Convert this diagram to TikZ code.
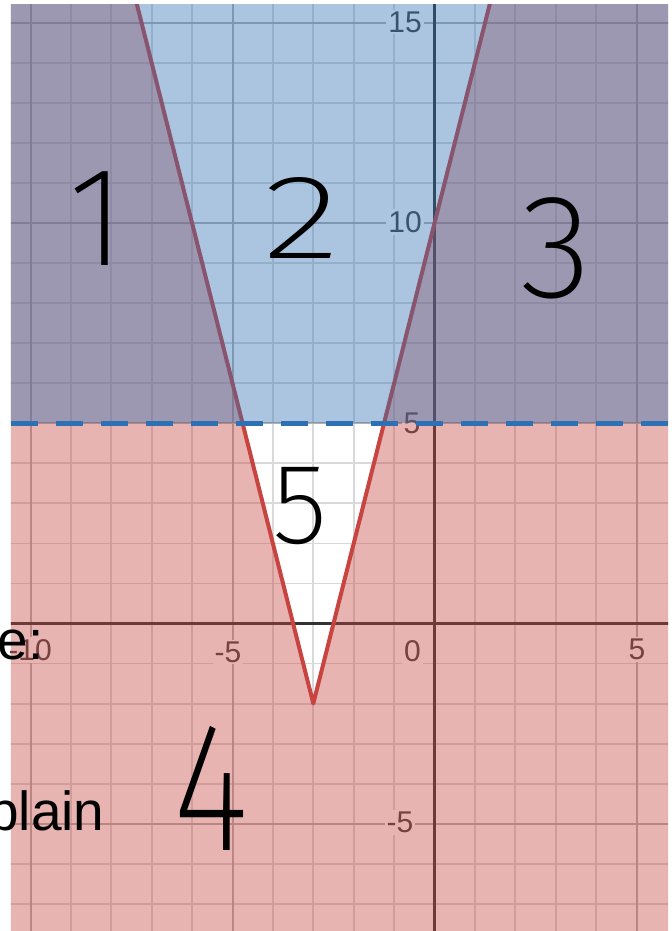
\documentclass[tikz,border=0pt]{standalone}
\usepackage{fontspec}
\setmainfont{Liberation Sans}
\newfontfamily\handfont{Fira Sans ExtraLight}
\definecolor{dred}{HTML}{C74440}
\definecolor{dblue}{HTML}{2D70B3}
\begin{document}
\begin{tikzpicture}[x=0.75pt,y=-0.75pt,
  minorline/.style={draw=black!15, line width=1.4pt},
  majorline/.style={draw=black!30, line width=1.5pt},
  axisline/.style={draw=black!80, line width=2pt},
  ticklabel/.style={fill=white, text=black!75, inner sep=1.5pt,
    font=\fontsize{22.5}{22.5}\selectfont},
  handdigit/.style={text=black, inner sep=0pt, anchor=base},
  overtext/.style={text=black, inner sep=0pt, anchor=base west,
    font=\fontsize{41.25}{41.25}\selectfont}]
\useasboundingbox (0,0) rectangle (671,931);
\fill[white] (0,0) rectangle (671,931);
\begin{scope}[shift={(434.5,623.5)},x=30.3pt,y=30.0225pt]
  \clip (-10.483,-7.7) rectangle (5.78,15.451);
  % grid
  \foreach \i in {-9,-8,-7,-6,-4,-3,-2,-1,1,2,3,4}
    \draw[minorline] (\i,-8) -- (\i,16);
  \foreach \j in {-7,-6,-4,-3,-2,-1,1,2,3,4,6,7,8,9,11,12,13,14}
    \draw[minorline] (-11,\j) -- (6,\j);
  \foreach \i in {-10,-5,5}
    \draw[majorline] (\i,-8) -- (\i,16);
  \foreach \j in {-5,5,10,15}
    \draw[majorline] (-11,\j) -- (6,\j);
  \draw[axisline] (0,-8) -- (0,16);
  \draw[axisline] (-11,0) -- (6,0);
  % axis labels
  \node[ticklabel] (ly15) at (-0.730,15.026) {15};
  \node[ticklabel] (ly10) at (-0.730,10.03) {10};
  \node[ticklabel] (ly5) at (-0.557,5.0) {5};
  \node[ticklabel] (lym5) at (-0.854,-4.96) {-5};
  \node[ticklabel] (lxm10) at (-10.01,-0.662) {-10};
  \node[ticklabel] (lxm5) at (-5.11,-0.712) {-5};
  \node[ticklabel] (lx0) at (-0.545,-0.687) {0};
  \node[ticklabel] (lx5) at (5.01,-0.65) {5};
  % red inequality region (outside the V)
  \fill[dred, fill opacity=0.4]
    (-11,16) -- (-7.5,16) -- (-3,-2) -- (1.5,16) -- (6,16) -- (6,-8) -- (-11,-8) -- cycle;
  \draw[dred, line width=3pt, line join=round] (-7.5,16) -- (-3,-2) -- (1.5,16);
  % blue region y > 5
  \fill[dblue, fill opacity=0.4] (-11,5) rectangle (6,16);
  \draw[dblue, line width=3.4pt, dash pattern=on 20pt off 13.75pt] (-10.483,5) -- (5.78,5);
\end{scope}
% handwritten region numbers
\node[handdigit, font=\handfont\fontsize{106}{106}\selectfont] (n1) at (97,265) {1};
\node[handdigit, font=\handfont\fontsize{90}{90}\selectfont] (n2) at (302,258) {\scalebox{1.35}[1]{2}};
\node[handdigit, font=\handfont\fontsize{111}{111}\selectfont] (n3) at (556,297) {3};
\node[handdigit, font=\handfont\fontsize{138}{138}\selectfont] (n4) at (211,850) {\scalebox{0.8}[1]{4}};
\node[handdigit, font=\handfont\fontsize{86}{86}\selectfont] (n5) at (300,543) {5};
% overlapping slide text
\node[overtext] (te) at (-2.6,659) {e:};
\node[overtext] (tp) at (-12,830) {plain};
\end{tikzpicture}
\end{document}
